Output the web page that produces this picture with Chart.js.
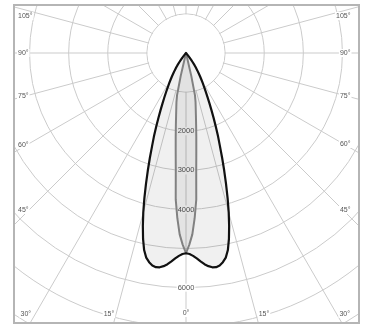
<!DOCTYPE html>
<html><head><meta charset="utf-8">
<script src="https://cdn.jsdelivr.net/npm/chart.js@4.4.1/dist/chart.umd.min.js"></script>
<style>
html,body{margin:0;padding:0;background:#fff;width:368px;height:326px;overflow:hidden}
#frame{position:absolute;left:13px;top:4px;width:343px;height:316px;border:2px solid #b5b5b5;overflow:hidden;background:#fff}
#c{position:absolute;left:-181px;top:-305px}
</style></head><body>
<div id="frame"><canvas id="c" width="704" height="704"></canvas></div>
<script>
// Luminous intensity (cd), 1 degree steps, gamma from -40 to +40
const outerStartAngle = -40;
const outerIntensity = [0,70,150,220,300,380,450,530,610,700,790,890,1000,1120,1260,1420,1600,1810,2040,2290,2540,2840,3160,3500,3860,4220,4560,4880,5150,5330,5430,5500,5530,5520,5480,5420,5340,5260,5190,5140,
  5120,
  5140,5190,5260,5340,5420,5480,5520,5530,5500,5430,5330,5150,4880,4560,4220,3860,3500,3160,2840,2540,2290,2040,1810,1600,1420,1260,1120,1000,890,790,700,610,530,450,380,300,220,150,70,0];
// inner lobe, gamma from -14 to +14
const innerStartAngle = -14;
const innerIntensity = [0,600,1100,1280,1430,1620,1860,2160,2520,3000,3760,4230,4640,4900,
  5120,
  4900,4640,4230,3760,3000,2520,2160,1860,1620,1430,1280,1100,600,0];
// radial tick labels shown on the 0 deg axis
const radialTickLabels = [2000,3000,4000,6000];
const radialMax = 9000, radialStep = 1000;
// angle labels around the frame
const angleLabelText = ['105°','90°','75°','60°','45°','30°','15°','0°','15°','30°','45°','60°','75°','90°','105°'];

// layout for angle labels (page coordinates)
const angleLabelLayout = [
  {x:18,y:16,a:'left'},{x:18,y:53,a:'left'},{x:18,y:96,a:'left'},{x:18,y:145,a:'left'},{x:18,y:210,a:'left'},
  {x:20.5,y:314,a:'left'},{x:109,y:314,a:'center'},{x:186,y:313,a:'center'},{x:264,y:314,a:'center'},{x:350,y:314,a:'right'},
  {x:350.5,y:210,a:'right'},{x:350.5,y:144,a:'right'},{x:350.5,y:96,a:'right'},{x:350.5,y:53,a:'right'},{x:350.5,y:16,a:'right'}
];

const N = 360;
const labels = Array.from({length:N},(_,i)=>String(i));
function toRadar(start, values){
  const arr = new Array(N).fill(0);
  values.forEach((v,k)=>{ const g = start + k; arr[(g + N) % N] = v; });
  return arr;
}

const FONT = '"Liberation Sans", Arial, sans-serif';
const overlay = {
  id:'overlay',
  beforeDatasetsDraw(chart){
    const s = chart.scales.r, ctx = chart.ctx;
    ctx.save();
    ctx.fillStyle = '#fff';
    ctx.beginPath();
    ctx.arc(s.xCenter, s.yCenter, s.getDistanceFromCenterForValue(1000) - 0.7, 0, Math.PI*2);
    ctx.fill();
    ctx.font = '7.5px ' + FONT;
    ctx.textAlign = 'center'; ctx.textBaseline = 'middle';
    radialTickLabels.forEach(v=>{
      const p = s.getPointPosition(0, s.getDistanceFromCenterForValue(v));
      const t = String(v), w = ctx.measureText(t).width;
      ctx.fillStyle = '#fff'; ctx.fillRect(p.x - w/2 - 1, p.y - 4, w + 2, 8);
      ctx.fillStyle = '#555'; ctx.fillText(t, p.x, p.y);
    });
    ctx.restore();
  },
  afterDraw(chart){
    const ctx = chart.ctx;
    const r = chart.canvas.getBoundingClientRect();
    ctx.save();
    ctx.font = '7px ' + FONT;
    ctx.textBaseline = 'middle';
    angleLabelText.forEach((t,i)=>{
      const L = angleLabelLayout[i];
      const x = L.x - r.left, y = L.y - r.top;
      const w = ctx.measureText(t).width;
      let x0 = L.a === 'left' ? x : (L.a === 'right' ? x - w : x - w/2);
      ctx.fillStyle = '#fff'; ctx.fillRect(x0 - 1, y - 4, w + 2, 8);
      ctx.fillStyle = '#555'; ctx.textAlign = 'left'; ctx.fillText(t, x0, y);
    });
    ctx.restore();
  }
};

new Chart(document.getElementById('c'), {
  type:'radar',
  data:{
    labels,
    datasets:[
      {data: toRadar(outerStartAngle, outerIntensity), borderColor:'#111', borderWidth:2.2, backgroundColor:'rgba(0,0,0,0.06)', fill:true, pointRadius:0, tension:0, borderJoinStyle:'round'},
      {data: toRadar(innerStartAngle, innerIntensity), borderColor:'#8a8a8a', borderWidth:2, backgroundColor:'rgba(0,0,0,0.055)', fill:true, pointRadius:0, tension:0, borderJoinStyle:'round'}
    ]
  },
  options:{
    responsive:false, devicePixelRatio:1, animation:false,
    layout:{padding:0},
    plugins:{legend:{display:false}, tooltip:{enabled:false}},
    scales:{ r:{
      min:0, max:radialMax, startAngle:180,
      ticks:{display:false, stepSize:radialStep},
      grid:{circular:true, color:'#cbcbcb', lineWidth:1},
      angleLines:{display:true, color:c=> c.index % 15 === 0 ? '#cbcbcb' : 'rgba(0,0,0,0)', lineWidth:c=> c.index % 15 === 0 ? 1 : 0},
      pointLabels:{display:false}
    }}
  },
  plugins:[overlay]
});
</script></body></html>
